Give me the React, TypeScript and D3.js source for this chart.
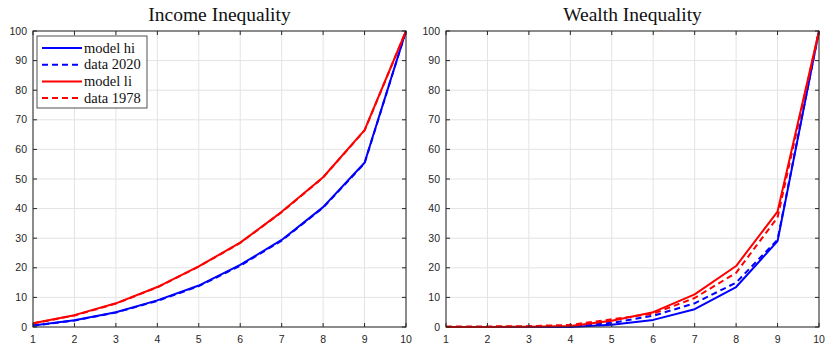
import * as d3 from 'd3';

const deciles = [1, 2, 3, 4, 5, 6, 7, 8, 9, 10];
const xTicks = [1, 2, 3, 4, 5, 6, 7, 8, 9, 10];
const yTicks = [0, 10, 20, 30, 40, 50, 60, 70, 80, 90, 100];

// Income: cumulative shares by decile
const incomeModelHi = [0.5, 2.3, 5.0, 9.0, 14.0, 21.0, 29.4, 40.5, 55.5, 100];
const incomeData2020 = [0.4, 2.2, 4.9, 8.8, 13.8, 20.7, 29.2, 40.3, 55.3, 100];
const incomeModelLi = [1.3, 4.0, 8.0, 13.5, 20.5, 28.5, 38.9, 50.6, 66.5, 100];
const incomeData1978 = [1.2, 3.9, 7.9, 13.4, 20.4, 28.4, 38.8, 50.5, 66.4, 100];

// Wealth: cumulative shares by decile
const wealthModelHi = [0, 0, 0, 0, 0.8, 2.4, 6.0, 13.5, 29.0, 100];
const wealthData2020 = [0, 0, 0, 0.2, 1.4, 3.8, 8.0, 15.0, 29.5, 100];
const wealthModelLi = [0, 0, 0.1, 0.3, 2.1, 5.0, 11.0, 20.6, 39.0, 100];
const wealthData1978 = [0.2, 0.2, 0.3, 0.7, 2.6, 4.5, 9.8, 18.3, 37.0, 100];

const BLUE = '#0000ff';
const RED = '#ff0000';
const AXIS = '#262626';
const GRID = '#e3e3e3';

interface Series {
  name: string;
  values: number[];
  color: string;
  dashed: boolean;
}

function Panel({ x0, title, series, legend }: { x0: number; title: string; series: Series[]; legend?: boolean }) {
  const left = x0;
  const right = x0 + 373;
  const top = 31;
  const bottom = 327;
  const x = d3.scaleLinear().domain([1, 10]).range([left, right]);
  const y = d3.scaleLinear().domain([0, 100]).range([bottom, top]);
  const line = d3.line<number>().x((_, i) => x(deciles[i])).y(d => y(d));
  const tk = 4;

  return (
    <g>
      <text x={(left + right) / 2} y={21} textAnchor="middle" fontFamily="'Liberation Serif', serif" fontSize={19.5} fill="#111">
        {title}
      </text>
      <rect x={left} y={top} width={right - left} height={bottom - top} fill="#fff" />
      {xTicks.map(t => (
        <line key={'gx' + t} x1={x(t)} x2={x(t)} y1={top} y2={bottom} stroke={GRID} strokeWidth={1} />
      ))}
      {yTicks.map(t => (
        <line key={'gy' + t} x1={left} x2={right} y1={y(t)} y2={y(t)} stroke={GRID} strokeWidth={1} />
      ))}
      {series.map(s => (
        <path
          key={s.name}
          d={line(s.values) || ''}
          fill="none"
          stroke={s.color}
          strokeWidth={2}
          strokeDasharray={s.dashed ? '6,4' : undefined}
          strokeLinejoin="round"
        />
      ))}
      <rect x={left} y={top} width={right - left} height={bottom - top} fill="none" stroke={AXIS} strokeWidth={1} />
      {xTicks.map(t => (
        <g key={'tx' + t}>
          <line x1={x(t)} x2={x(t)} y1={bottom} y2={bottom - tk} stroke={AXIS} />
          <line x1={x(t)} x2={x(t)} y1={top} y2={top + tk} stroke={AXIS} />
          <text x={x(t)} y={bottom + 16} textAnchor="middle" fontFamily="'Liberation Sans', Arial, sans-serif" fontSize={10.5} fill={AXIS}>
            {t}
          </text>
        </g>
      ))}
      {yTicks.map(t => (
        <g key={'ty' + t}>
          <line x1={left} x2={left + tk} y1={y(t)} y2={y(t)} stroke={AXIS} />
          <line x1={right} x2={right - tk} y1={y(t)} y2={y(t)} stroke={AXIS} />
          <text x={left - 6} y={y(t) + 3.5} textAnchor="end" fontFamily="'Liberation Sans', Arial, sans-serif" fontSize={10.5} fill={AXIS}>
            {t}
          </text>
        </g>
      ))}
      {legend && (
        <g>
          <rect x={left + 4} y={36} width={110} height={72} fill="#fff" stroke={AXIS} strokeWidth={0.8} />
          {series.map((s, i) => {
            const ly = 48 + i * 16.7;
            return (
              <g key={'lg' + s.name}>
                <line
                  x1={left + 9}
                  x2={left + 49}
                  y1={ly}
                  y2={ly}
                  stroke={s.color}
                  strokeWidth={2}
                  strokeDasharray={s.dashed ? '6,4' : undefined}
                />
                <text x={left + 51} y={ly + 4.5} fontFamily="'Liberation Serif', serif" fontSize={14.5} fill="#111">
                  {s.name}
                </text>
              </g>
            );
          })}
        </g>
      )}
    </g>
  );
}

export default function App() {
  const income: Series[] = [
    { name: 'model hi', values: incomeModelHi, color: BLUE, dashed: false },
    { name: 'data 2020', values: incomeData2020, color: BLUE, dashed: true },
    { name: 'model li', values: incomeModelLi, color: RED, dashed: false },
    { name: 'data 1978', values: incomeData1978, color: RED, dashed: true },
  ];
  const wealth: Series[] = [
    { name: 'model hi', values: wealthModelHi, color: BLUE, dashed: false },
    { name: 'data 2020', values: wealthData2020, color: BLUE, dashed: true },
    { name: 'model li', values: wealthModelLi, color: RED, dashed: false },
    { name: 'data 1978', values: wealthData1978, color: RED, dashed: true },
  ];
  return (
    <svg width={825} height={344} style={{ position: 'absolute', left: 0, top: 0, background: '#fff' }}>
      <rect width={825} height={344} fill="#fff" />
      <Panel x0={33} title="Income Inequality" series={income} legend />
      <Panel x0={446} title="Wealth Inequality" series={wealth} />
    </svg>
  );
}
